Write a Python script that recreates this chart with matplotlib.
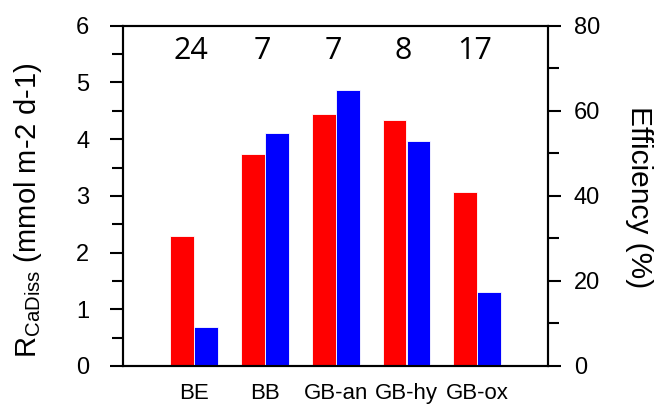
import matplotlib.pyplot as plt
from matplotlib.ticker import MultipleLocator

plt.rcParams['font.family'] = ['Liberation Sans', 'DejaVu Sans']
plt.rcParams['mathtext.default'] = 'regular'

sites = ["BE", "BB", "GB-an", "GB-hy", "GB-ox"]
r_cadiss = [2.30, 3.74, 4.44, 4.34, 3.06]  # mmol m-2 d-1
efficiency = [9.2, 54.7, 64.8, 52.8, 17.5]  # %
counts = ["24", "7", "7", "8", "17"]

fig = plt.figure(figsize=(6.54, 4.05), dpi=100)
ax = fig.add_axes([0.1886, 0.0963, 0.6494, 0.8402])
ax2 = ax.twinx()

x = list(range(len(sites)))
w = 0.335
ax.bar([i - 0.17 for i in x], r_cadiss, width=w, color="#ff0000",
       edgecolor="white", linewidth=0.6)
ax2.bar([i + 0.17 for i in x], efficiency, width=w, color="#0000ff",
        edgecolor="white", linewidth=0.6)

ax.set_xlim(-1, 5)
ax.set_ylim(0, 6)
ax2.set_ylim(0, 80)
ax.yaxis.set_major_locator(MultipleLocator(1))
ax.yaxis.set_minor_locator(MultipleLocator(0.5))
ax2.yaxis.set_major_locator(MultipleLocator(20))
ax2.yaxis.set_minor_locator(MultipleLocator(10))

ax.set_xticks(x)
ax.set_xticklabels(sites, fontsize=16)
ax.tick_params(axis='x', length=0, pad=12)

for a, p in ((ax, 15), (ax2, 9)):
    for s in a.spines.values():
        s.set_linewidth(1.5)
    a.tick_params(axis='y', which='major', direction='out', length=9.5,
                  width=1.5, labelsize=17, pad=p)
    a.tick_params(axis='y', which='minor', direction='out', length=8,
                  width=1.5)

# sample numbers above each pair
for i, n in zip(x, counts):
    ax.text(i - 0.04, 5.56, n, ha='center', va='center', fontsize=22,
            family=['Open Sans', 'DejaVu Sans'])

ax.set_ylabel(r"R$_{CaDiss}$ (mmol m-2 d-1)", fontsize=21)
ax.yaxis.set_label_coords(-0.225, 0.456)
ax.yaxis.label.set_verticalalignment('center')
ax2.set_ylabel("Efficiency (%)", fontsize=21.5, rotation=270)
ax2.yaxis.set_label_coords(1.215, 0.495)
ax2.yaxis.label.set_verticalalignment('center')

fig.savefig("out.png", dpi=100)
